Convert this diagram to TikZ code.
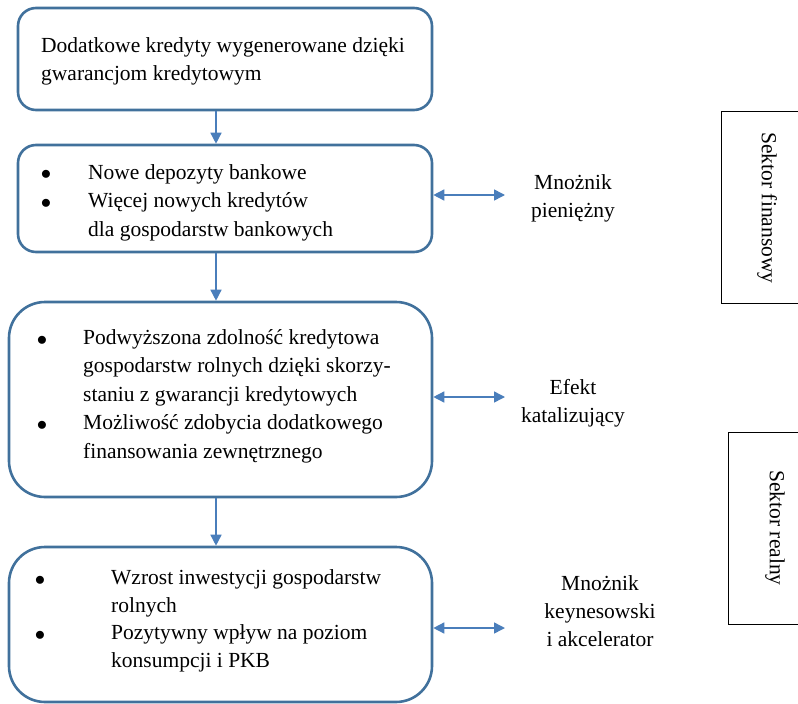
\documentclass[tikz,border=0pt]{standalone}
\usepackage{fontspec}
\setmainfont{Liberation Serif}
\usetikzlibrary{arrows.meta,positioning}
\definecolor{boxblue}{HTML}{41719C}
\definecolor{arrblue}{HTML}{4A7EBB}
\tikzset{>={Triangle[length=11pt,width=11pt]}}

\begin{document}
\begin{tikzpicture}[x=1pt,y=-1pt,
    box/.style={draw=boxblue,line width=2.6pt,inner sep=0pt},
    txt/.style={anchor=west,align=left,inner sep=0pt,font=\fontsize{21.5}{28.5}\selectfont},
    lbl/.style={align=center,inner sep=0pt,font=\fontsize{21.5}{28}\selectfont},
    dot/.style={inner sep=0pt,font=\fontsize{21.5}{28}\selectfont},
    flow/.style={->,arrblue,line width=1.5pt},
    both/.style={<->,arrblue,line width=1.5pt}]
    \useasboundingbox (0,0) rectangle (798,704);

    % main boxes
    \node[box,rounded corners=18pt,minimum width=414pt,minimum height=102pt] (b1) at (225,59) {};
    \node[box,rounded corners=18pt,minimum width=414pt,minimum height=107pt] (b2) at (225,198.5) {};
    \node[box,rounded corners=36pt,minimum width=423pt,minimum height=195pt] (b3) at (220.5,399.5) {};
    \node[box,rounded corners=36pt,minimum width=423pt,minimum height=155pt] (b4) at (220.5,624.5) {};

    % texts
    \node[txt] (t1) at (41,61.5) {Dodatkowe kredyty wygenerowane dzięki\\gwarancjom kredytowym};
    \node[dot] (d21) at (46,175) {$\bullet$};
    \node[dot] (d22) at (46,204) {$\bullet$};
    \node[txt] (t21) at (88,174) {Nowe depozyty bankowe};
    \node[txt] (t22) at (88,217) {Więcej nowych kredytów\\dla gospodarstw bankowych};
    \node[dot] (d31) at (42,341) {$\bullet$};
    \node[dot] (d32) at (42,426) {$\bullet$};
    \node[txt] (t31) at (83,367.5) {Podwyższona zdolność kredytowa\\gospodarstw rolnych dzięki skorzy-\\staniu z gwarancji kredytowych};
    \node[txt] (t32) at (83,439) {Możliwość zdobycia dodatkowego\\finansowania zewnętrznego};
    \node[dot] (d41) at (40,581) {$\bullet$};
    \node[dot] (d42) at (40,636) {$\bullet$};
    \node[txt] (t41) at (111,593.5) {Wzrost inwestycji gospodarstw\\rolnych};
    \node[txt] (t42) at (111,648.5) {Pozytywny wpływ na poziom\\konsumpcji i PKB};

    % effects
    \node[lbl] (e1) at (573,198) {Mnożnik\\pieniężny};
    \node[lbl] (e2) at (573,403) {Efekt\\katalizujący};
    \node[lbl] (e3) at (600,611) {Mnożnik\\keynesowski\\i akcelerator};
    \coordinate (c1) at (505,195);
    \coordinate (c2) at (505,397);
    \coordinate (c3) at (505,628);
    \coordinate (ax) at (216,0);

    % sectors
    \node[draw,line width=0.8pt,minimum width=100pt,minimum height=192pt,anchor=north west] (s1) at (721,111) {};
    \node[draw,line width=0.8pt,minimum width=100pt,minimum height=192pt,anchor=north west] (s2) at (728,432) {};
    \node[lbl,rotate=-90] (l1) at (767,208) {Sektor finansowy};
    \node[lbl,rotate=-90] (l2) at (775,528) {Sektor realny};

    \draw[flow] (b1.south -| ax) -- (b2.north -| ax);
    \draw[flow] (b2.south -| ax) -- (b3.north -| ax);
    \draw[flow] (b3.south -| ax) -- (b4.north -| ax);
    \draw[both] (b2.east |- c1) -- (c1);
    \draw[both] (b3.east |- c2) -- (c2);
    \draw[both] (b4.east |- c3) -- (c3);
\end{tikzpicture}
\end{document}
